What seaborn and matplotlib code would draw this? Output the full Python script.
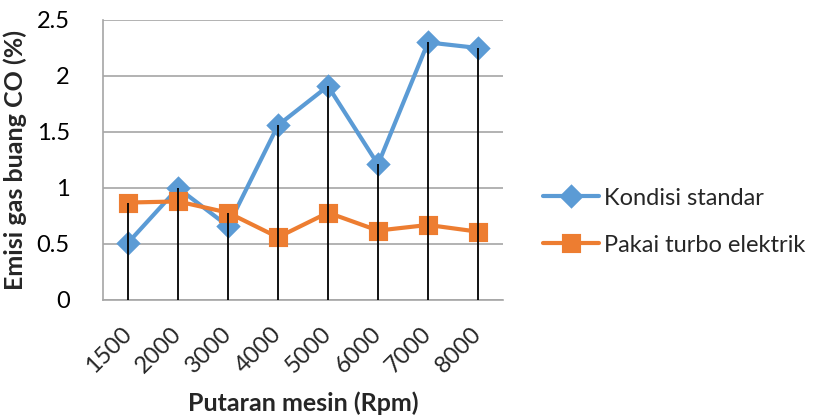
import matplotlib
matplotlib.use("Agg")
import matplotlib.pyplot as plt
import seaborn as sns
import pandas as pd
import numpy as np

rpm = ["1500", "2000", "3000", "4000", "5000", "6000", "7000", "8000"]
kondisi_standar = [0.51, 1.00, 0.66, 1.56, 1.91, 1.21, 2.30, 2.25]
pakai_turbo = [0.87, 0.88, 0.78, 0.56, 0.78, 0.62, 0.67, 0.61]
series_names = ["Kondisi standar", "Pakai turbo elektrik"]
y_ticks = [0, 0.5, 1, 1.5, 2, 2.5]

df = pd.DataFrame({
    "rpm": rpm * 2,
    "co": kondisi_standar + pakai_turbo,
    "series": [series_names[0]] * len(rpm) + [series_names[1]] * len(rpm),
})

sns.set_style("white")
plt.rcParams["font.family"] = ["Lato", "DejaVu Sans"]

fig = plt.figure(figsize=(8.14, 4.18), dpi=100)
ax = fig.add_axes([103 / 814, (418 - 300) / 418, 400 / 814, 280 / 418])

blue = "#5B9BD5"
orange = "#ED7D31"
sns.pointplot(data=df, x="rpm", y="co", hue="series", order=rpm,
              hue_order=series_names, palette=[blue, orange],
              markers=["D", "s"], linestyles=["-", "-"],
              markersize=10.5, linewidth=3.0, errorbar=None, ax=ax, zorder=3)

# drop lines
tops = np.maximum(kondisi_standar, pakai_turbo)
ax.vlines(np.arange(len(rpm)), 0, tops, colors="black", linewidth=1.3, zorder=5)

fs = 17
ax.set_xlim(-0.5, len(rpm) - 0.5)
ax.set_ylim(0, 2.5)
ax.set_yticks(y_ticks)
ax.set_yticklabels(["0", "0.5", "1", "1.5", "2", "2.5"], fontsize=fs)
ax.grid(axis="y", color="#A6A6A6", linewidth=1.2)
ax.grid(axis="x", visible=False)
ax.set_axisbelow(True)
for s in ["top", "right"]:
    ax.spines[s].set_visible(False)
for s in ["left", "bottom"]:
    ax.spines[s].set_color("#A6A6A6")
    ax.spines[s].set_linewidth(1.2)
ax.tick_params(axis="y", length=6, width=1.2, color="#A6A6A6", pad=18, labelcolor="black")
ax.tick_params(axis="x", length=0, pad=22)
ax.set_xticks(range(len(rpm)))
ax.set_xticklabels(rpm, rotation=45, ha="right", va="center", rotation_mode="anchor", fontsize=fs)

ax.set_xlabel("Putaran mesin (Rpm)", fontsize=18, fontweight="bold")
ax.xaxis.set_label_coords(0.5, -0.325)
ax.set_ylabel("Emisi gas buang CO (%)", fontsize=18, fontweight="bold")
ax.yaxis.set_label_coords(-0.19, 0.5)

for ln in ax.lines:
    if ln.get_marker() == "s":
        ln.set_markersize(11.5)

handles, labels = ax.get_legend_handles_labels()
for h in handles:
    if hasattr(h, "get_marker") and h.get_marker() == "s":
        h.set_markersize(11.5)
leg = ax.legend(handles, labels, loc="center left", bbox_to_anchor=(1.07, 0.28),
                frameon=False, fontsize=fs, handlelength=2.4, handletextpad=0.2,
                labelspacing=1.1, borderpad=0)

fig.savefig("out.png", dpi=100)
